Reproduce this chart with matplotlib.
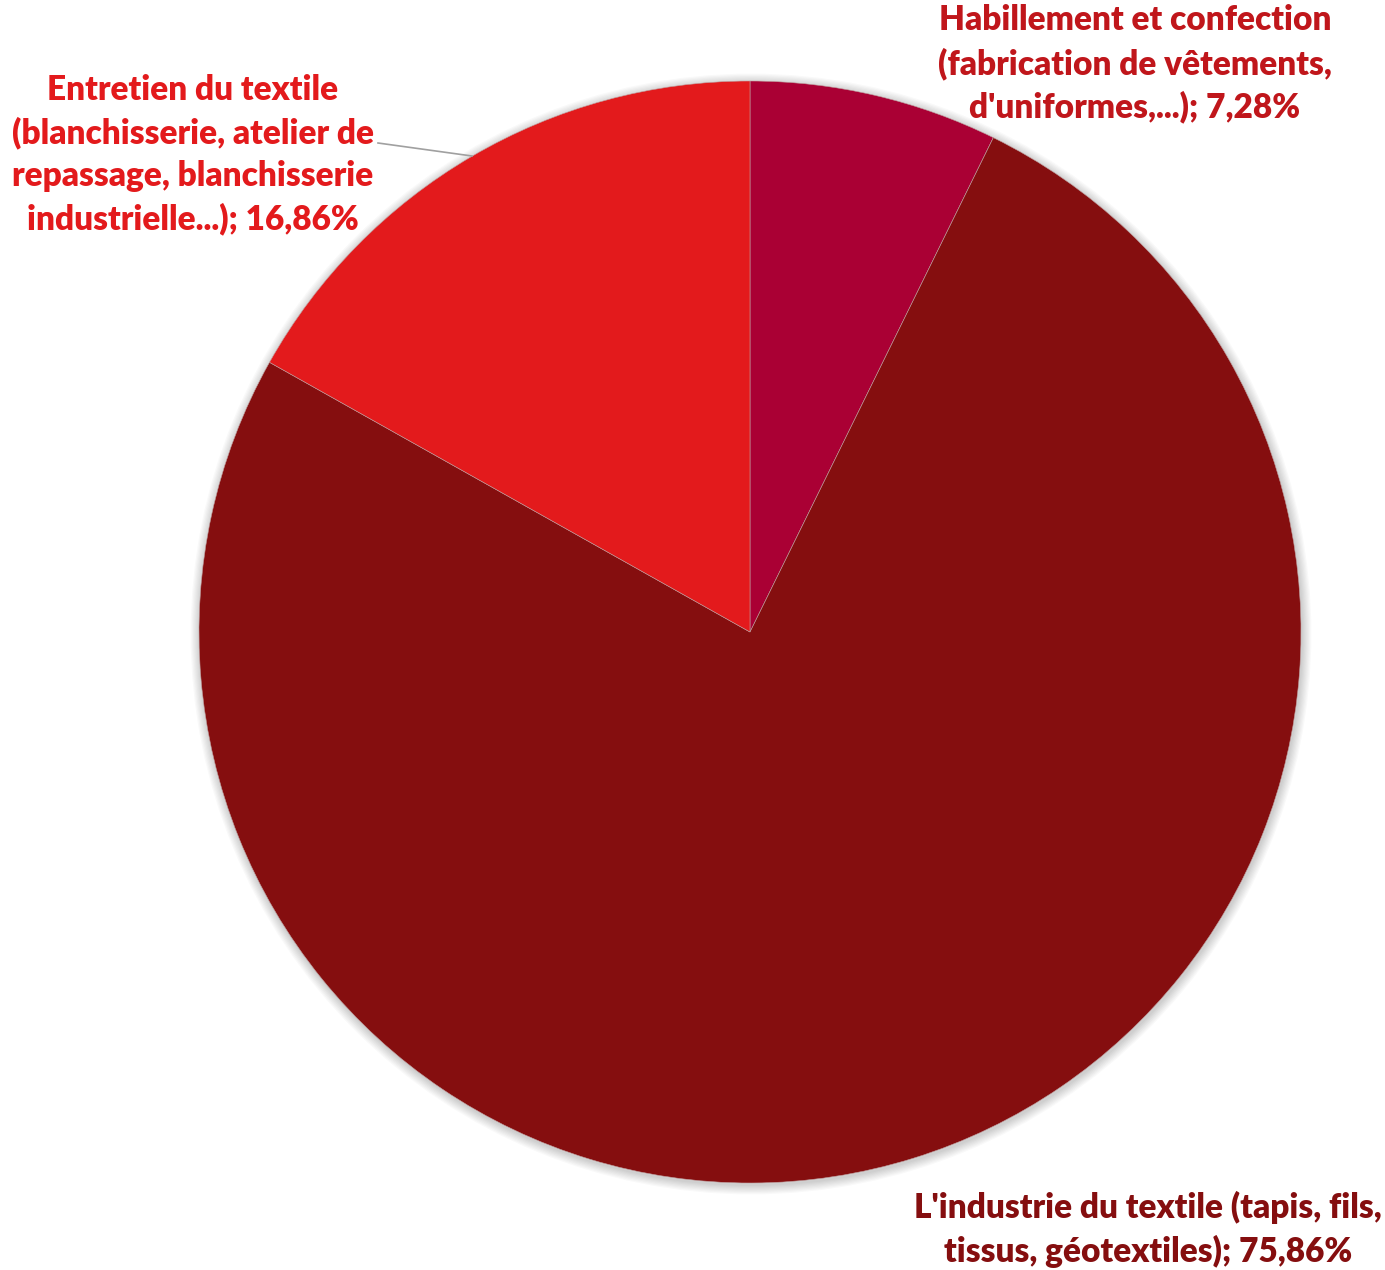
import matplotlib.pyplot as plt
from matplotlib.patches import Circle

# data
labels = [
    "Habillement et confection\n(fabrication de vêtements,\nd'uniformes,...); 7,28%",
    "L'industrie du textile (tapis, fils,\ntissus, géotextiles); 75,86%",
    "Entretien du textile\n(blanchisserie, atelier de\nrepassage, blanchisserie\nindustrielle...); 16,86%",
]
values = [7.28, 75.86, 16.86]
slice_colors = ['#AA0034', '#850E0F', '#E31A1C']
label_colors = ['#C0161B', '#850E0F', '#E31A1C']

W, H = 1385, 1270
fig = plt.figure(figsize=(W / 100, H / 100), dpi=100)
ax = fig.add_axes([0, 0, 1, 1])
ax.set_xlim(0, W)
ax.set_ylim(0, H)
ax.set_aspect('equal')
ax.axis('off')

cx, cy, r = 750, H - 632, 551

# soft shadow around the pie
for i in range(8):
    ax.add_patch(Circle((cx + 1, cy - 2), r + 1 + i * 1.2, color='#000000',
                        alpha=0.025, lw=0, zorder=0))

ax.pie(values, colors=slice_colors, startangle=90, counterclock=False,
       center=(cx, cy), radius=r, frame=True,
       wedgeprops=dict(edgecolor='#c0a0a0', linewidth=0.4))
ax.set_xlim(0, W)
ax.set_ylim(0, H)
ax.axis('off')

font = dict(family=['Lato', 'DejaVu Sans'], fontweight='heavy', fontsize=24,
            ha='center', va='center', linespacing=1.4)

ax.text(1135, H - 64, labels[0], color=label_colors[0], **font)
ax.text(1148, H - 1229, labels[1], color=label_colors[1], **font)
ax.text(193, H - 155, labels[2], color=label_colors[2], **font)

# leader line for Entretien
ax.plot([378, 472], [H - 143, H - 156], color='#a0a0a0', lw=1.2, zorder=5)

fig.savefig('out.png', dpi=100)
